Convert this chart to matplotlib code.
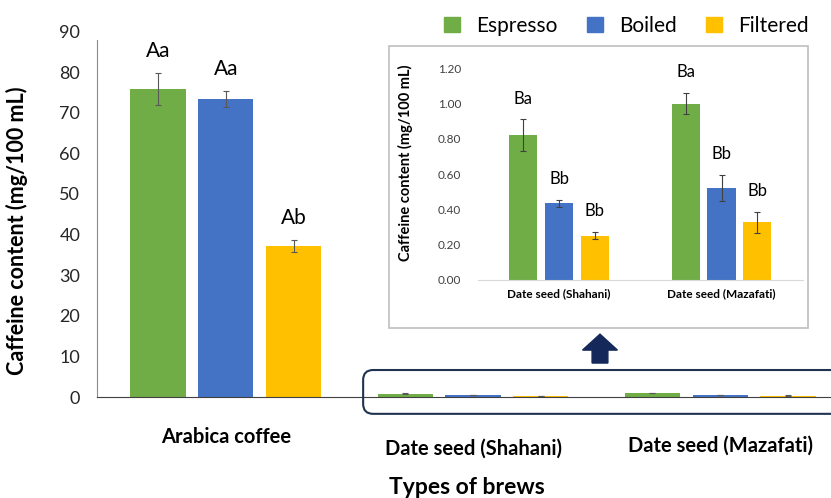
import matplotlib
matplotlib.use("Agg")
import matplotlib.pyplot as plt
from matplotlib.patches import Patch, Rectangle, FancyBboxPatch, FancyArrow
import numpy as np

plt.rcParams['font.family'] = ['Lato', 'DejaVu Sans']

# data
brews = ['Espresso', 'Boiled', 'Filtered']
colors = ['#70ad47', '#4472c4', '#ffc000']

main_groups = ['Arabica coffee', 'Date seed (Shahani)', 'Date seed (Mazafati)']
main_values = [[75.8, 0.82, 1.00],
               [73.3, 0.44, 0.52],
               [37.2, 0.25, 0.33]]
main_errors = [[3.9, 0.09, 0.06],
               [2.0, 0.02, 0.07],
               [1.4, 0.02, 0.06]]
main_letters = ['Aa', 'Aa', 'Ab']

inset_groups = ['Date seed (Shahani)', 'Date seed (Mazafati)']
inset_values = [[0.82, 1.00],
                [0.435, 0.523],
                [0.251, 0.327]]
inset_errors = [[0.09, 0.06],
                [0.02, 0.074],
                [0.02, 0.06]]
inset_letters = [['Ba', 'Ba'], ['Bb', 'Bb'], ['Bb', 'Bb']]

main_ticks = np.arange(0, 91, 10)
inset_ticks = np.arange(0, 1.21, 0.2)

fig = plt.figure(figsize=(8.31, 4.98), dpi=100)

# main chart
ax = fig.add_axes([0.1167, 0.2028, 0.8833, 0.734])
x = np.arange(len(main_groups))
w, step = 0.223, 0.275
for i, brew in enumerate(brews):
    ax.bar(x + (i - 1) * step, main_values[i], w, color=colors[i],
           yerr=main_errors[i], capsize=2.5,
           error_kw=dict(ecolor='#595959', elinewidth=0.8, capthick=0.8))
for i, lab in enumerate(main_letters):
    top = main_values[i][0] + main_errors[i][0]
    ax.annotate(lab, xy=(x[0] + (i - 1) * step, top), xytext=(0, 16),
                textcoords='offset points', ha='center', va='center', fontsize=15)

ax.set_xlim(-0.522, 2.449)
ax.set_ylim(0, 90)
ax.set_yticks(main_ticks)
ax.tick_params(axis='y', length=0, pad=12, labelsize=13, labelcolor='#262626')
ax.set_xticks([])
for s in ['top', 'right']:
    ax.spines[s].set_visible(False)
ax.spines['left'].set_color('#8c8c8c')
ax.spines['left'].set_bounds(0, 88)
ax.spines['bottom'].set_color('#404040')
ax.set_ylabel('Caffeine content (mg/100 mL)', fontsize=15.5, fontweight='bold')
ax.yaxis.set_label_coords(-0.094, 0.456)

label_offsets = [29, 37, 35]
for xi, g, off in zip(x, main_groups, label_offsets):
    ax.annotate(g, xy=(xi, 0), xycoords=('data', 'axes fraction'),
                xytext=(0, -off), textcoords='offset points',
                ha='center', va='center', fontsize=14.5, fontweight='bold')
fig.text(0.562, 0.022, 'Types of brews', ha='center', va='center',
         fontsize=16.5, fontweight='bold')

# inset frame, arrow and highlight box
fig.add_artist(Rectangle((0.468, 0.341), 0.504, 0.567, transform=fig.transFigure,
                         fill=False, edgecolor='#bfbfbf', linewidth=1.2))
fig.add_artist(FancyBboxPatch((0.437, 0.169), 0.575, 0.088, transform=fig.transFigure,
                              boxstyle='round,pad=0,rounding_size=0.012',
                              mutation_aspect=831 / 498,
                              fill=False, edgecolor='#1f3350', linewidth=1.5))
fig.add_artist(FancyArrow(0.722, 0.271, 0, 0.058, width=0.019, head_width=0.042,
                          head_length=0.032, length_includes_head=True,
                          transform=fig.transFigure, color='#14285a'))

# inset chart
ins = fig.add_axes([0.575, 0.438, 0.391, 0.425])
xi = np.arange(len(inset_groups))
wi, stepi = 0.173, 0.22
for i, brew in enumerate(brews):
    ins.bar(xi + (i - 1) * stepi, inset_values[i], wi, color=colors[i],
            yerr=inset_errors[i], capsize=2,
            error_kw=dict(ecolor='#404040', elinewidth=0.8, capthick=0.8))
    for j in range(len(inset_groups)):
        top = inset_values[i][j] + inset_errors[i][j]
        ins.annotate(inset_letters[i][j], xy=(xi[j] + (i - 1) * stepi, top),
                     xytext=(0, 15), textcoords='offset points',
                     ha='center', va='center', fontsize=12, annotation_clip=False)
ins.set_xlim(-0.5, 1.5)
ins.set_ylim(0, 1.2)
ins.set_yticks(inset_ticks)
ins.set_yticklabels([f'{t:.2f}' for t in inset_ticks])
ins.tick_params(axis='y', length=0, pad=12, labelsize=8.5, labelcolor='#404040')
ins.set_xticks(xi)
ins.set_xticklabels(inset_groups, fontsize=8.5, fontweight='bold')
ins.tick_params(axis='x', length=0, pad=6)
for s in ['top', 'right', 'left']:
    ins.spines[s].set_visible(False)
ins.spines['bottom'].set_color('#d9d9d9')
ins.set_ylabel('Caffeine content (mg/100 mL)', fontsize=10.5, fontweight='bold')
ins.yaxis.set_label_coords(-0.2, 0.552)

handles = [Patch(color=c, label=b) for c, b in zip(colors, brews)]
fig.legend(handles=handles, loc='center', bbox_to_anchor=(0.754, 0.948), ncol=3,
           frameon=False, fontsize=15, handlelength=0.75, handleheight=0.75,
           handletextpad=0.8, columnspacing=1.4)

fig.savefig('out.png', dpi=100)
